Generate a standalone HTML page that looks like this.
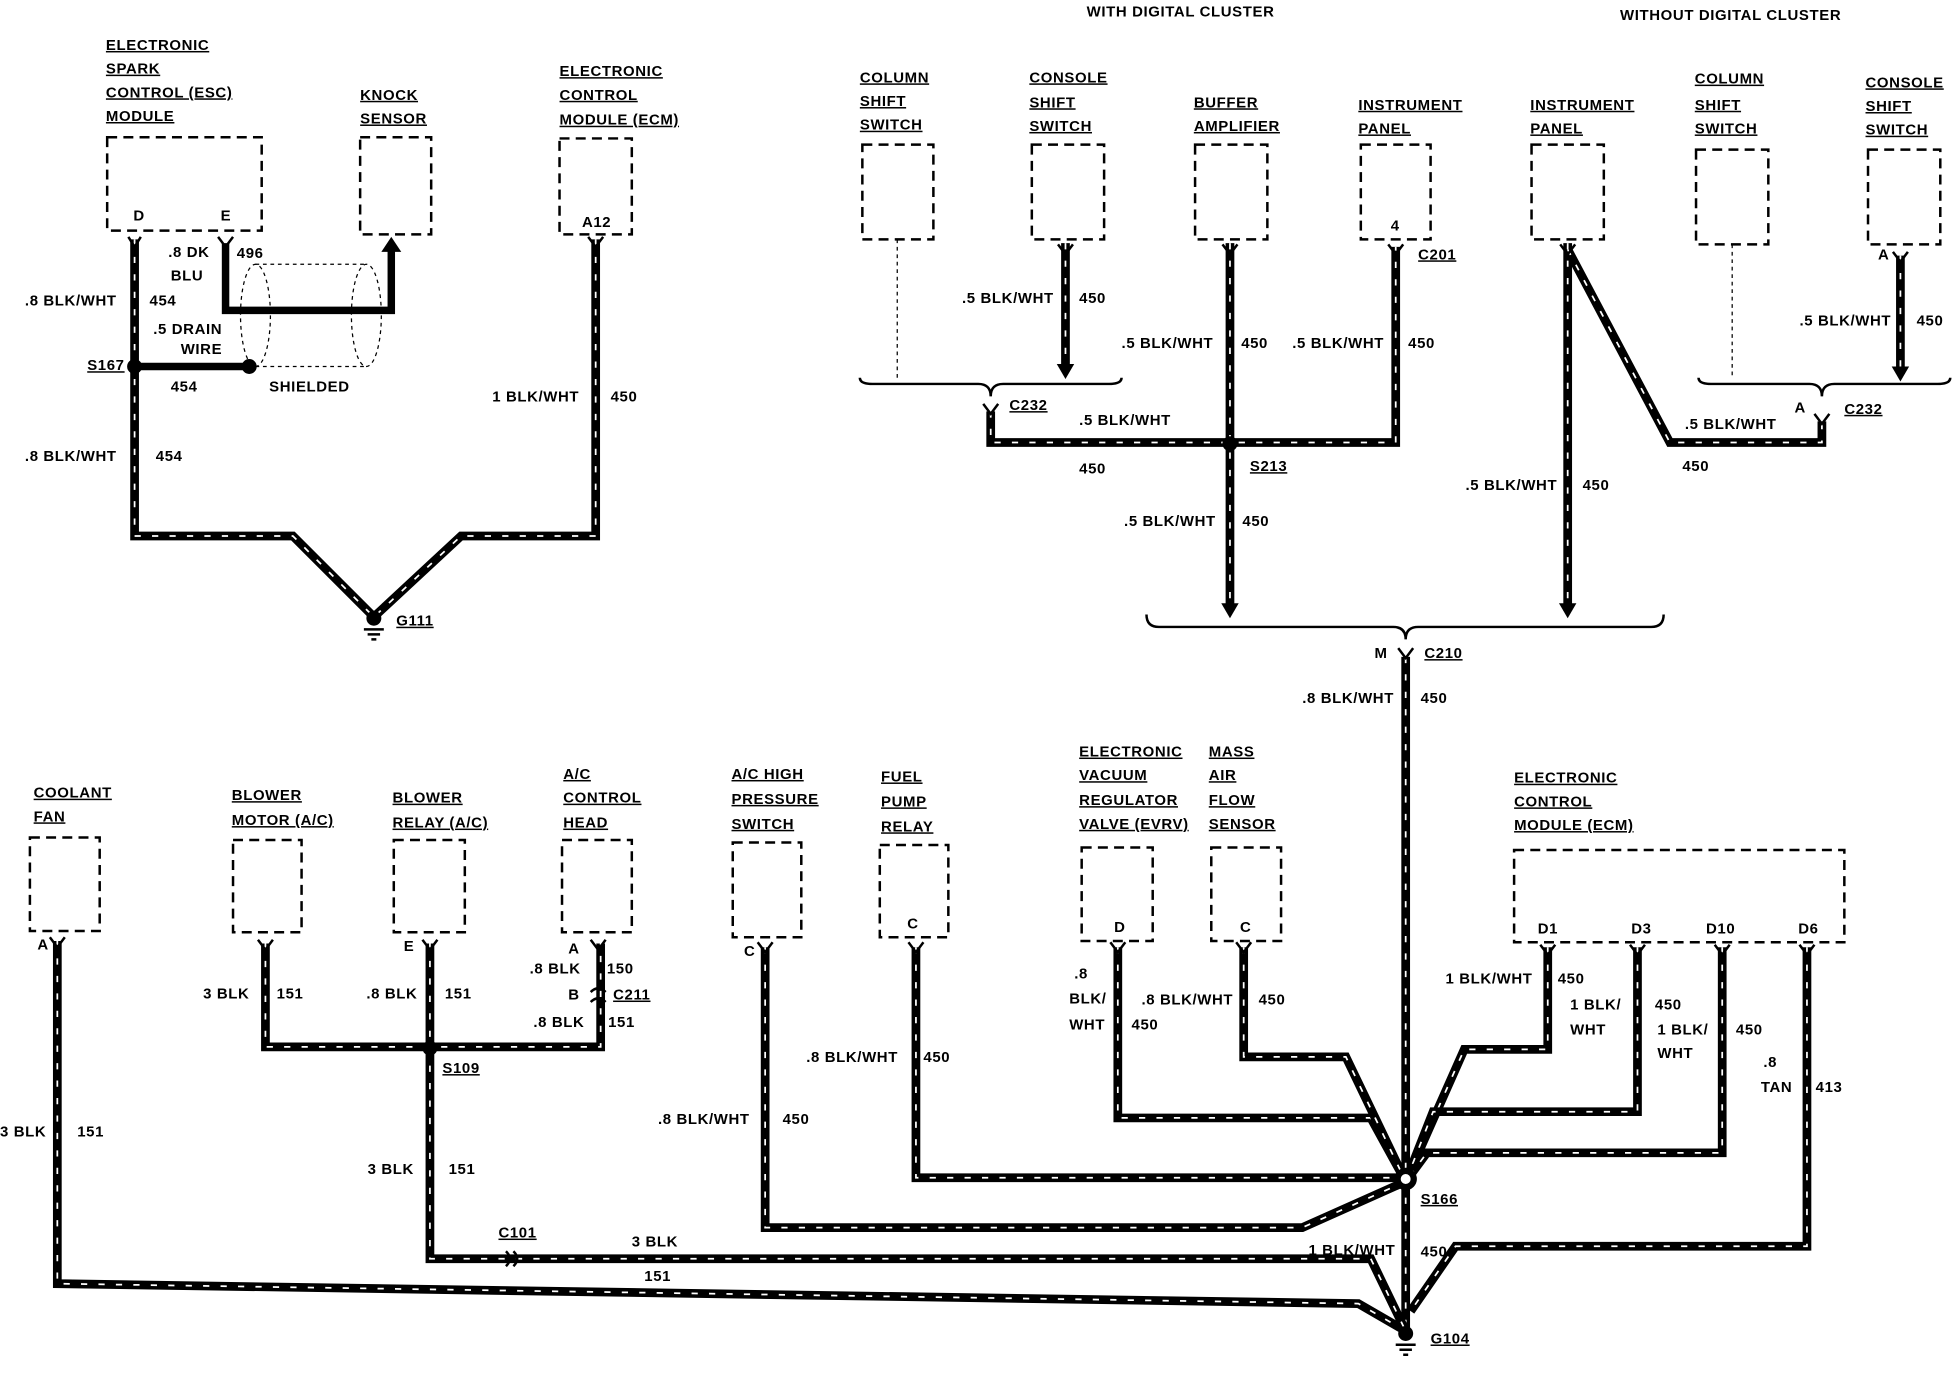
<!DOCTYPE html>
<html><head><meta charset="utf-8"><style>
html,body{margin:0;padding:0;background:#fff;}
svg{display:block}
text{font-family:"Liberation Sans",sans-serif;font-weight:bold;font-size:12px;fill:#000;letter-spacing:0.5px}
.u{text-decoration:underline}
.w{fill:none;stroke:#000;stroke-width:7;stroke-linejoin:miter}
.d{fill:none;stroke:#fff;stroke-width:1.4;stroke-dasharray:5 9}
.s{fill:none;stroke:#000;stroke-width:6}
.bx{fill:none;stroke:#000;stroke-width:2;stroke-dasharray:8 5}
.th{fill:none;stroke:#000;stroke-width:1;stroke-dasharray:3 3}
.ln{fill:none;stroke:#000;stroke-width:2}
</style></head><body>
<svg width="1954" height="1376" viewBox="0 0 1568 1104" xmlns="http://www.w3.org/2000/svg">
<defs>
<path id="a1" d="M108 192 V430 H235 L300 495"/>
<path id="a2" d="M478 192 V430 H370 L300 495"/>
<path id="b1" d="M855 195 V298"/>
<path id="b2" d="M795 330 V355 H1120 V198"/>
<path id="b3" d="M987 195 V490"/>
<path id="b4" d="M1258 195 V490"/>
<path id="b5" d="M1258 200 L1340 355 H1462 V338"/>
<path id="b6" d="M1525 205 V300"/>
<path id="c1" d="M1128 527 V1070"/>
<path id="e1" d="M46 755 V1030 L1090 1046 L1128 1068"/>
<path id="e2" d="M213 757 V840 H482 V757"/>
<path id="e3" d="M345 757 V1010 H1100 L1128 1068"/>
<path id="f1" d="M614 760 V985 H1045 L1128 948"/>
<path id="f2" d="M735 760 V945 H1128"/>
<path id="f3" d="M897 760 V897 H1100 L1128 948"/>
<path id="f4" d="M998 760 V848 H1080 L1128 948"/>
<path id="g1" d="M1242 760 V842 H1175 L1128 948"/>
<path id="g2" d="M1314 760 V892 H1150 L1128 948"/>
<path id="g3" d="M1382 760 V925 H1145 L1128 948"/>
<path id="g4" d="M1450 760 V1000 H1168 L1132 1052"/>
</defs>
<g>
<use href="#a1" class="w"/><use href="#a1" class="d"/>
<use href="#a2" class="w"/><use href="#a2" class="d"/>
<use href="#b1" class="w"/><use href="#b1" class="d"/>
<use href="#b2" class="w"/><use href="#b2" class="d"/>
<use href="#b3" class="w"/><use href="#b3" class="d"/>
<use href="#b4" class="w"/><use href="#b4" class="d"/>
<use href="#b5" class="w"/><use href="#b5" class="d"/>
<use href="#b6" class="w"/><use href="#b6" class="d"/>
<use href="#c1" class="w"/><use href="#c1" class="d"/>
<use href="#e1" class="w"/><use href="#e1" class="d"/>
<use href="#e2" class="w"/><use href="#e2" class="d"/>
<use href="#e3" class="w"/><use href="#e3" class="d"/>
<use href="#f1" class="w"/><use href="#f1" class="d"/>
<use href="#f2" class="w"/><use href="#f2" class="d"/>
<use href="#f3" class="w"/><use href="#f3" class="d"/>
<use href="#f4" class="w"/><use href="#f4" class="d"/>
<use href="#g1" class="w"/><use href="#g1" class="d"/>
<use href="#g2" class="w"/><use href="#g2" class="d"/>
<use href="#g3" class="w"/><use href="#g3" class="d"/>
<use href="#g4" class="w"/><use href="#g4" class="d"/>
</g>
<path class="s" d="M108 294 H200"/>
<path class="s" d="M181 195 V249 H314 V200"/>
<path d="M306 202 L314 190 L322 202Z"/>
<ellipse cx="205" cy="253" rx="12" ry="41" class="th"/>
<ellipse cx="294" cy="253" rx="12" ry="41" class="th"/>
<path class="th" d="M205 212 H294 M205 294 H294"/>
<circle cx="108" cy="294" r="6"/><circle cx="200" cy="294" r="6"/>
<path d="M848 292 L855 304 L862 292Z"/>
<path d="M980 484 L987 496 L994 484Z"/>
<path d="M1251 484 L1258 496 L1265 484Z"/>
<path d="M1518 294 L1525 306 L1532 294Z"/>
<path class="ln" d="M690 303 Q690 308 700 308 H785 Q795 308 795 318 Q795 308 805 308 H890 Q900 308 900 303"/>
<path class="ln" d="M1363 303 Q1363 308 1373 308 H1452 Q1462 308 1462 318 Q1462 308 1472 308 H1555 Q1565 308 1565 303"/>
<path class="ln" d="M920 493 Q920 503 930 503 H1118 Q1128 503 1128 513 Q1128 503 1138 503 H1325 Q1335 503 1335 493"/>
<path class="th" d="M720 192 V303 M1390 196 V303"/>
<g class="ln">
<path d="M103 190 L108 198 L113 190 M175 190 L181 198 L187 190 M472 190 L478 198 L484 190"/>
<path d="M849 196 L855 204 L861 196 M981 196 L987 204 L993 196 M1114 196 L1120 204 L1126 196 M1252 196 L1258 204 L1264 196 M1519 202 L1525 210 L1531 202"/>
<path d="M789 324 L795 332 L801 324 M1456 332 L1462 340 L1468 332 M1122 520 L1128 528 L1134 520"/>
<path d="M40 752 L46 760 L52 752 M207 754 L213 762 L219 754 M339 754 L345 762 L351 754 M474 754 L480 762 L486 754 M608 756 L614 764 L620 756 M729 756 L735 764 L741 756 M891 756 L897 764 L903 756 M992 756 L998 764 L1004 756"/>
<path d="M1236 758 L1242 766 L1248 758 M1308 758 L1314 766 L1320 758 M1376 758 L1382 766 L1388 758 M1444 758 L1450 766 L1456 758"/>
<path d="M474 796 Q480 790 486 796 M474 804 Q480 798 486 804 M406 1004 Q412 1010 406 1016 M412 1004 Q418 1010 412 1016"/>
</g>
<circle cx="987" cy="356" r="6"/>
<circle cx="345" cy="841" r="6"/>
<circle cx="1128" cy="946" r="9"/><circle cx="1128" cy="946" r="4" fill="#fff"/>
<circle cx="300" cy="496" r="6"/><path class="ln" d="M292 505 H308 M295 509 H305 M298 513 H302" stroke-width="1.2"/>
<circle cx="1128" cy="1070" r="6"/><path class="ln" d="M1120 1079 H1136 M1123 1083 H1133 M1126 1087 H1130" stroke-width="1.2"/>
<g class="bx">
<rect x="86" y="110" width="124" height="75"/>
<rect x="289" y="110" width="57" height="78"/>
<rect x="449" y="111" width="58" height="77"/>
<rect x="692" y="116" width="57" height="76"/>
<rect x="828" y="116" width="58" height="76"/>
<rect x="959" y="116" width="58" height="76"/>
<rect x="1092" y="116" width="56" height="76"/>
<rect x="1229" y="116" width="58" height="76"/>
<rect x="1361" y="120" width="58" height="76"/>
<rect x="1499" y="120" width="58" height="76"/>
<rect x="24" y="672" width="56" height="75"/>
<rect x="187" y="674" width="55" height="74"/>
<rect x="316" y="674" width="57" height="74"/>
<rect x="451" y="674" width="56" height="74"/>
<rect x="588" y="676" width="55" height="76"/>
<rect x="706" y="678" width="55" height="74"/>
<rect x="868" y="680" width="57" height="75"/>
<rect x="972" y="680" width="56" height="75"/>
<rect x="1215" y="682" width="265" height="74"/>
</g>
<g class="u">
<text x="85" y="40">ELECTRONIC</text><text x="85" y="59">SPARK</text><text x="85" y="78">CONTROL (ESC)</text><text x="85" y="97">MODULE</text>
<text x="289" y="80">KNOCK</text><text x="289" y="99">SENSOR</text>
<text x="449" y="61">ELECTRONIC</text><text x="449" y="80">CONTROL</text><text x="449" y="100">MODULE (ECM)</text>
<text x="690" y="66">COLUMN</text><text x="690" y="85">SHIFT</text><text x="690" y="104">SWITCH</text>
<text x="826" y="66">CONSOLE</text><text x="826" y="86">SHIFT</text><text x="826" y="105">SWITCH</text>
<text x="958" y="86">BUFFER</text><text x="958" y="105">AMPLIFIER</text>
<text x="1090" y="88">INSTRUMENT</text><text x="1090" y="107">PANEL</text>
<text x="1228" y="88">INSTRUMENT</text><text x="1228" y="107">PANEL</text>
<text x="1360" y="67">COLUMN</text><text x="1360" y="88">SHIFT</text><text x="1360" y="107">SWITCH</text>
<text x="1497" y="70">CONSOLE</text><text x="1497" y="89">SHIFT</text><text x="1497" y="108">SWITCH</text>
<text x="27" y="640">COOLANT</text><text x="27" y="659">FAN</text>
<text x="186" y="642">BLOWER</text><text x="186" y="662">MOTOR (A/C)</text>
<text x="315" y="644">BLOWER</text><text x="315" y="664">RELAY (A/C)</text>
<text x="452" y="625">A/C</text><text x="452" y="644">CONTROL</text><text x="452" y="664">HEAD</text>
<text x="587" y="625">A/C HIGH</text><text x="587" y="645">PRESSURE</text><text x="587" y="665">SWITCH</text>
<text x="707" y="627">FUEL</text><text x="707" y="647">PUMP</text><text x="707" y="667">RELAY</text>
<text x="866" y="607">ELECTRONIC</text><text x="866" y="626">VACUUM</text><text x="866" y="646">REGULATOR</text><text x="866" y="665">VALVE (EVRV)</text>
<text x="970" y="607">MASS</text><text x="970" y="626">AIR</text><text x="970" y="646">FLOW</text><text x="970" y="665">SENSOR</text>
<text x="1215" y="628">ELECTRONIC</text><text x="1215" y="647">CONTROL</text><text x="1215" y="666">MODULE (ECM)</text>
<text x="318" y="502">G111</text><text x="70" y="297">S167</text><text x="1138" y="208">C201</text><text x="810" y="329">C232</text>
<text x="1003" y="378">S213</text><text x="1480" y="332">C232</text><text x="1143" y="528">C210</text>
<text x="492" y="802">C211</text><text x="355" y="861">S109</text><text x="400" y="993">C101</text><text x="1140" y="966">S166</text><text x="1148" y="1078">G104</text>
</g>
<text x="872" y="13">WITH DIGITAL CLUSTER</text>
<text x="1300" y="16">WITHOUT DIGITAL CLUSTER</text>
<g style="font-size:10px">
<text x="107" y="177">D</text><text x="177" y="177">E</text><text x="467" y="182">A12</text><text x="1116" y="185">4</text>
<text x="728" y="745">C</text><text x="894" y="748">D</text><text x="995" y="748">C</text>
<text x="1234" y="749">D1</text><text x="1309" y="749">D3</text><text x="1369" y="749">D10</text><text x="1443" y="749">D6</text>
</g>
<text x="20" y="245">.8 BLK/WHT</text><text x="120" y="245">454</text>
<text x="135" y="206">.8 DK</text><text x="137" y="225">BLU</text><text x="190" y="207">496</text>
<text x="123" y="268">.5 DRAIN</text><text x="145" y="284">WIRE</text>
<text x="137" y="314">454</text><text x="216" y="314">SHIELDED</text>
<text x="20" y="370">.8 BLK/WHT</text><text x="125" y="370">454</text>
<text x="395" y="322">1 BLK/WHT</text><text x="490" y="322">450</text>
<text x="772" y="243">.5 BLK/WHT</text><text x="866" y="243">450</text>
<text x="900" y="279">.5 BLK/WHT</text><text x="996" y="279">450</text>
<text x="1037" y="279">.5 BLK/WHT</text><text x="1130" y="279">450</text>
<text x="866" y="341">.5 BLK/WHT</text><text x="866" y="380">450</text>
<text x="902" y="422">.5 BLK/WHT</text><text x="997" y="422">450</text>
<text x="1444" y="261">.5 BLK/WHT</text><text x="1538" y="261">450</text>
<text x="1507" y="208">A</text><text x="1440" y="331">A</text>
<text x="1352" y="344">.5 BLK/WHT</text><text x="1350" y="378">450</text>
<text x="1176" y="393">.5 BLK/WHT</text><text x="1270" y="393">450</text>
<text x="1103" y="528">M</text>
<text x="1045" y="564">.8 BLK/WHT</text><text x="1140" y="564">450</text>
<text x="30" y="762">A</text><text x="324" y="763">E</text><text x="456" y="765">A</text><text x="456" y="802">B</text><text x="597" y="767">C</text>
<text x="163" y="801">3 BLK</text><text x="222" y="801">151</text>
<text x="294" y="801">.8 BLK</text><text x="357" y="801">151</text>
<text x="425" y="781">.8 BLK</text><text x="487" y="781">150</text>
<text x="428" y="824">.8 BLK</text><text x="488" y="824">151</text>
<text x="0" y="912">3 BLK</text><text x="62" y="912">151</text>
<text x="295" y="942">3 BLK</text><text x="360" y="942">151</text>
<text x="507" y="1000">3 BLK</text><text x="517" y="1028">151</text>
<text x="528" y="902">.8 BLK/WHT</text><text x="628" y="902">450</text>
<text x="647" y="852">.8 BLK/WHT</text><text x="741" y="852">450</text>
<text x="862" y="785">.8</text><text x="858" y="805">BLK/</text><text x="858" y="826">WHT</text>
<text x="916" y="806">.8 BLK/WHT</text><text x="908" y="826">450</text><text x="1010" y="806">450</text>
<text x="1160" y="789">1 BLK/WHT</text><text x="1250" y="789">450</text>
<text x="1260" y="810">1 BLK/</text><text x="1260" y="830">WHT</text><text x="1328" y="810">450</text>
<text x="1330" y="830">1 BLK/</text><text x="1330" y="849">WHT</text><text x="1393" y="830">450</text>
<text x="1415" y="856">.8</text><text x="1413" y="876">TAN</text><text x="1457" y="876">413</text>
<text x="1050" y="1007">1 BLK/WHT</text><text x="1140" y="1008">450</text>
</svg>
</body></html>
